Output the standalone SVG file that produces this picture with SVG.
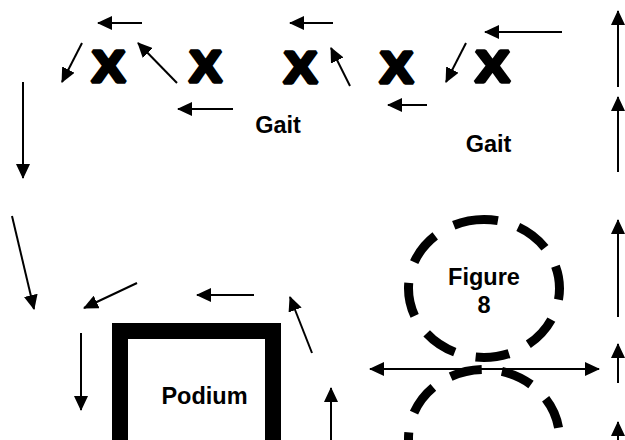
<svg xmlns="http://www.w3.org/2000/svg" width="625" height="440" viewBox="0 0 625 440">
<style>
text{font-family:"Liberation Sans",Arial,sans-serif;font-weight:bold;fill:#000}
.x{font-size:45px;stroke:#000;stroke-width:3.6;stroke-linejoin:bevel}
.lbl{font-size:23.5px;text-anchor:middle}
.c line{stroke:#000;stroke-width:2;fill:none;marker-end:url(#ah)}
.dash{fill:none;stroke:#000;stroke-width:9}
</style>
<defs>
<marker id="ah" viewBox="0 0 15 14" refX="14" refY="7" markerWidth="15" markerHeight="14" markerUnits="userSpaceOnUse" orient="auto-start-reverse">
<path d="M0,0 L15,7 L0,14 z" fill="#000"/>
</marker>
</defs>
<rect width="625" height="440" fill="#fff"/>

<g id="x1"><text class="x" x="91.5" y="81.5" textLength="34" lengthAdjust="spacingAndGlyphs">X</text></g>
<g id="x2"><text class="x" x="189" y="81.5" textLength="33" lengthAdjust="spacingAndGlyphs">X</text></g>
<g id="x3"><text class="x" x="283.5" y="82.5" textLength="34" lengthAdjust="spacingAndGlyphs">X</text></g>
<g id="x4"><text class="x" x="379.5" y="82.5" textLength="34" lengthAdjust="spacingAndGlyphs">X</text></g>
<g id="x5"><text class="x" x="475" y="82" textLength="35" lengthAdjust="spacingAndGlyphs">X</text></g>

<g id="gait1"><text class="lbl" x="278" y="133">Gait</text></g>
<g id="gait2"><text class="lbl" x="488.5" y="152">Gait</text></g>

<g id="podium">
<rect x="120" y="331" width="153" height="200" fill="none" stroke="#000" stroke-width="16"/>
<text class="lbl" x="204.5" y="404">Podium</text>
</g>

<g id="figure8">
<path class="dash" pathLength="454.2" stroke-dasharray="14 21.4 34 21.4 34 21.4 34 21.4 34 21.4 34 21.4 34 21.4 34 21.4 31 0" d="M484,219.5 A75.5,69 0 1,1 484,357.5 A75.5,69 0 1,1 484,219.5"/>
<path class="dash" stroke-dasharray="32 20.4" stroke-dashoffset="17.2" d="M484,507.5 A75.5,69 0 1,1 484,369.5 A75.5,69 0 1,1 484,507.5"/>
<text class="lbl" x="484" y="285">Figure</text>
<text class="lbl" x="484" y="313">8</text>
</g>

<g id="connectors" class="c">
<line x1="142" y1="23" x2="98" y2="23"/>
<line x1="82" y1="43" x2="62" y2="82"/>
<line x1="177" y1="83" x2="138" y2="43"/>
<line x1="233" y1="109" x2="178" y2="109"/>
<line x1="23" y1="82" x2="23" y2="178"/>
<line x1="333" y1="23" x2="290" y2="23"/>
<line x1="350" y1="86" x2="331" y2="48"/>
<line x1="466" y1="43" x2="446" y2="82"/>
<line x1="562" y1="32" x2="485" y2="32"/>
<line x1="427" y1="105" x2="388" y2="105"/>
<line x1="618" y1="87" x2="618" y2="11"/>
<line x1="618" y1="172" x2="618" y2="97"/>
<line x1="12" y1="216" x2="34" y2="309"/>
<line x1="137" y1="283" x2="84" y2="308"/>
<line x1="254" y1="295" x2="197" y2="295"/>
<line x1="312" y1="353" x2="290" y2="297"/>
<line x1="81" y1="333" x2="81" y2="410"/>
<line x1="331" y1="445" x2="331" y2="388"/>
<line x1="618" y1="317" x2="618" y2="220"/>
<line x1="618" y1="383" x2="618" y2="344"/>
<line x1="618" y1="445" x2="618" y2="422"/>
<line x1="370" y1="369" x2="599" y2="369" style="marker-start:url(#ah)"/>
</g>
</svg>
